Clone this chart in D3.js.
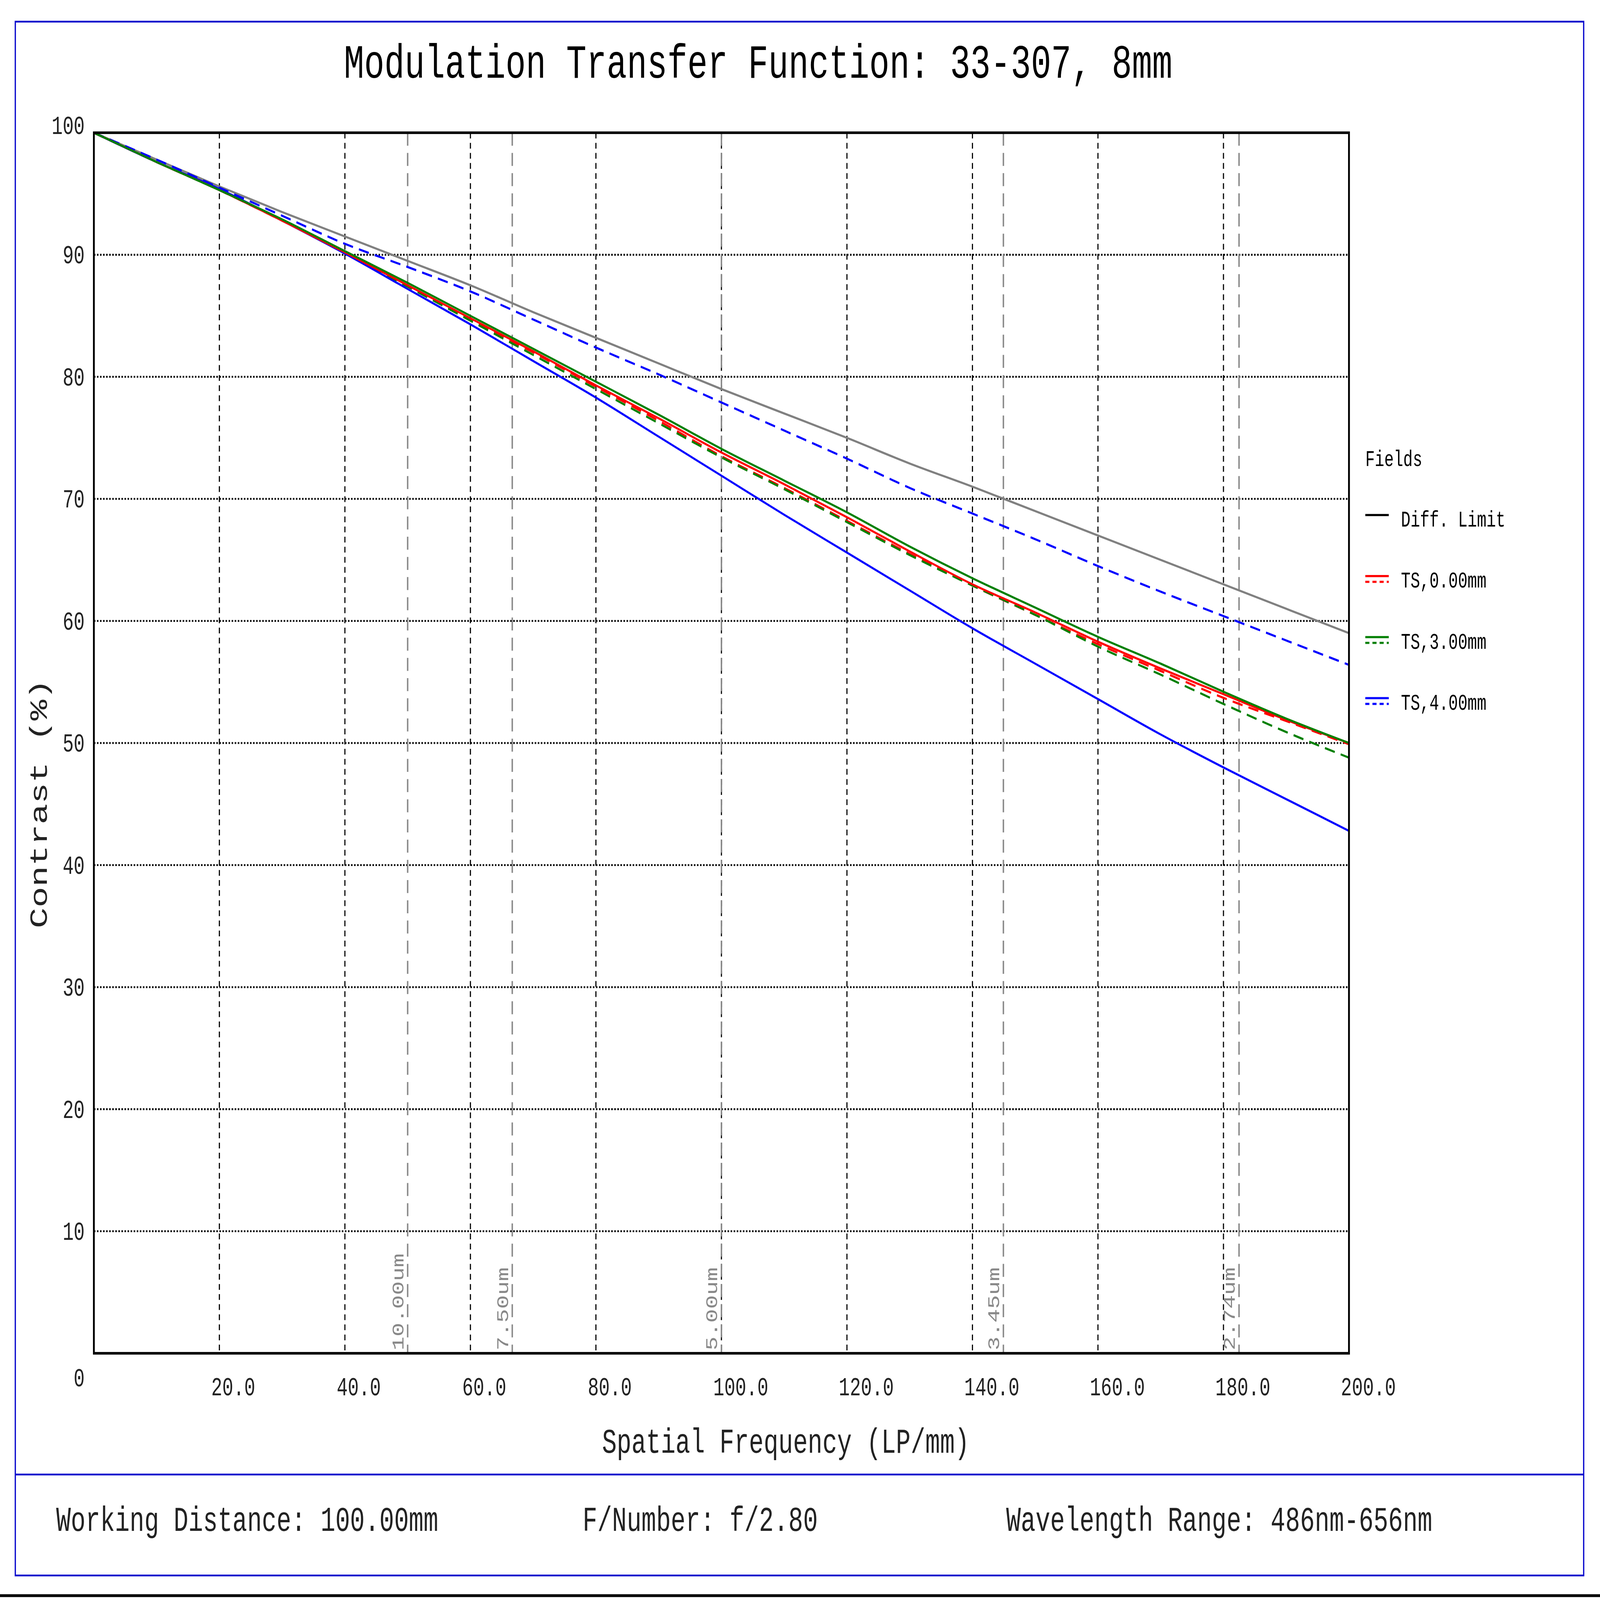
<!DOCTYPE html>
<html><head><meta charset="utf-8">
<script src="https://cdn.jsdelivr.net/npm/d3@7"></script>
<style>html,body{margin:0;padding:0;width:100%;height:100%;overflow:hidden;background:#fff}svg{display:block;width:100vw;height:100vh}</style></head>
<body><svg id="c" viewBox="0 0 1568 1109" preserveAspectRatio="none"></svg>
<script>
const freq = [0,10,20,30,40,50,60,70,80,90,100,110,120,130,140,150,160,170,180,190,200];
const diffLimit = [100,97.8,95.6,93.5,91.5,89.5,87.5,85.3,83.2,81.1,79,77,75,72.9,71,69,67,65,63,61,59];
const ts0T = [100,97.6,95.3,92.8,90.2,87.5,84.8,82.1,79.3,76.6,73.8,71.2,68.5,65.7,63,60.7,58.3,56.1,54,51.9,50];
const ts0S = [100,97.6,95.3,92.8,90.2,87.4,84.7,82,79.2,76.4,73.5,70.9,68.2,65.5,62.9,60.5,58.1,55.9,53.7,51.8,49.9];
const ts3T = [100,97.6,95.3,92.9,90.3,87.7,85,82.3,79.6,76.9,74.1,71.5,68.9,66.1,63.5,61.1,58.7,56.5,54.2,52,50];
const ts3S = [100,97.6,95.3,92.8,90.2,87.4,84.6,81.8,79,76.2,73.4,70.8,68.1,65.4,62.9,60.5,57.9,55.6,53.2,50.9,48.8];
const ts4T = [100,97.6,95.4,92.8,90.1,87.2,84.3,81.3,78.3,75.1,71.9,68.7,65.6,62.5,59.4,56.5,53.6,50.7,48,45.4,42.8];
const ts4S = [100,97.8,95.5,93.2,90.9,89,87,84.7,82.4,80.2,77.9,75.6,73.3,70.9,68.8,66.7,64.5,62.4,60.4,58.4,56.4];
const xTicks = [20,40,60,80,100,120,140,160,180,200];
const yTicks = [0,10,20,30,40,50,60,70,80,90,100];
const cutoffs = [50,66.67,100,144.93,182.48];
const cutoffLabels = ["10.00um","7.50um","5.00um","3.45um","2.74um"];
const legendLabels = ["Diff. Limit","TS,0.00mm","TS,3.00mm","TS,4.00mm"];
const legendColors = ["#000","red","green","blue"];

const F = "'Liberation Mono','DejaVu Sans Mono',monospace";
const svg = d3.select("#c");
svg.append("rect").attr("width",1568).attr("height",1109).attr("fill","#fff");
svg.append("rect").attr("x",15).attr("y",15).attr("width",1537).attr("height",1077).attr("fill","none").attr("stroke","#0000cc").attr("stroke-width",1.2);
svg.append("line").attr("x1",15).attr("x2",1552).attr("y1",1022).attr("y2",1022).attr("stroke","#0000cc").attr("stroke-width",1.2);
svg.append("line").attr("x1",0).attr("x2",1568).attr("y1",1106).attr("y2",1106).attr("stroke","#000").attr("stroke-width",2);

const x = d3.scaleLinear().domain([0,200]).range([92,1322]);
const y = d3.scaleLinear().domain([0,100]).range([938,92]);

svg.append("text").attr("x",743).attr("y",54).attr("text-anchor","middle").attr("font-family",F).attr("font-size",33).text("Modulation Transfer Function: 33-307, 8mm");

const g = svg.append("g");
xTicks.slice(0,-1).forEach(t=>g.append("line").attr("x1",x(t)).attr("x2",x(t)).attr("y1",92).attr("y2",938).attr("stroke","#000").attr("stroke-width",1.1).attr("stroke-dasharray","4,3"));
yTicks.slice(1,-1).forEach(t=>g.append("line").attr("x1",92).attr("x2",1322).attr("y1",y(t)).attr("y2",y(t)).attr("stroke","#000").attr("stroke-width",1.3).attr("stroke-dasharray","1.5,1.5"));

cutoffs.forEach((c,i)=>{
  g.append("line").attr("x1",x(c)).attr("x2",x(c)).attr("y1",92).attr("y2",938).attr("stroke","#888").attr("stroke-width",1.4).attr("stroke-dasharray","9,5");
  g.append("text").attr("transform",`translate(${x(c)-4},936) rotate(-90)`).attr("font-family",F).attr("font-size",16).attr("fill","#888").text(cutoffLabels[i]);
});

xTicks.forEach(t=>g.append("text").attr("x",x(t)-8).attr("y",967).attr("font-family",F).attr("font-size",18).attr("fill","#222").text(t.toFixed(1)));
yTicks.forEach(t=>g.append("text").attr("x",83).attr("y",t===0?961:(t===100?93:y(t)+6)).attr("text-anchor","end").attr("font-family",F).attr("font-size",18).attr("fill","#222").text(t));

const line = d3.line().curve(d3.curveMonotoneX).x((d,i)=>x(freq[i])).y(d=>y(d));
const series = [
  [diffLimit,"#808080",null],
  [ts4S,"blue","10,6"],
  [ts0S,"red","10,6"],
  [ts3S,"green","10,6"],
  [ts4T,"blue",null],
  [ts0T,"red",null],
  [ts3T,"green",null]
];
series.forEach(([d,c,da])=>g.append("path").attr("d",line(d)).attr("fill","none").attr("stroke",c).attr("stroke-width",1.5).attr("stroke-dasharray",da));

svg.append("rect").attr("x",92).attr("y",92).attr("width",1230).attr("height",846).attr("fill","none").attr("stroke","#000").attr("stroke-width",1.8);

svg.append("text").attr("x",770).attr("y",1007).attr("text-anchor","middle").attr("font-family",F).attr("font-size",24).attr("fill","#222").text("Spatial Frequency (LP/mm)");
svg.append("text").attr("transform","translate(46,557) rotate(-90)").attr("text-anchor","middle").attr("font-family",F).attr("font-size",24).attr("fill","#222").text("Contrast (%)");

svg.append("text").attr("x",1338).attr("y",323).attr("font-family",F).attr("font-size",15.5).text("Fields");
legendLabels.forEach((l,i)=>{
  const yy = 360 + i*42.3;
  svg.append("line").attr("x1",1338).attr("x2",1361).attr("y1",yy-3).attr("y2",yy-3).attr("stroke",legendColors[i]).attr("stroke-width",1.5);
  if(i>0) svg.append("line").attr("x1",1338).attr("x2",1361).attr("y1",yy+1).attr("y2",yy+1).attr("stroke",legendColors[i]).attr("stroke-width",1.5).attr("stroke-dasharray","4,3");
  svg.append("text").attr("x",1373).attr("y",yy+5).attr("font-family",F).attr("font-size",15.5).text(l);
});

[["Working Distance: 100.00mm",55],["F/Number: f/2.80",571],["Wavelength Range: 486nm-656nm",986]].forEach(([t,xx])=>
  svg.append("text").attr("x",xx).attr("y",1061).attr("font-family",F).attr("font-size",24).attr("fill","#222").text(t));
</script></body></html>
